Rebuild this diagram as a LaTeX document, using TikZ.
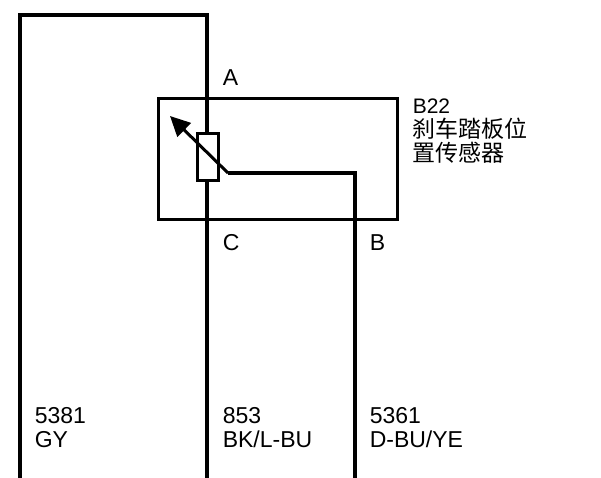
\documentclass[tikz,border=0pt]{standalone}
\usepackage{fontspec}
\setmainfont{Liberation Sans}
\newfontfamily\cjk{Noto Sans CJK SC}
\usetikzlibrary{arrows.meta}

\begin{document}
\begin{tikzpicture}[x=1pt,y=-1pt,line width=3.5pt,
                    pin label/.style={font=\fontsize{23}{23}\selectfont,anchor=base west,inner sep=0pt},
                    wire label/.style={font=\fontsize{23}{24}\selectfont,align=left,anchor=south west,inner sep=0pt}]
    \useasboundingbox (0,0) rectangle (601,478);

    % Points
    \coordinate (gtop) at (20,15);
    \coordinate (gbot) at (20,478);
    \coordinate (atop) at (207,15);
    \coordinate (abot) at (207,478);
    \coordinate (wiper) at (228,173);
    \coordinate (bcorner) at (355,173);
    \coordinate (bbot) at (355,478);
    \coordinate (tip) at (170,116);

    % Sensor box
    \draw[line width=3pt] (158,99) rectangle (397,219);
    \node[anchor=north west,inner sep=0pt,align=left,font=\fontsize{21}{24}\selectfont] (name) at (411,97)
      {B22\\{\cjk\fontsize{23}{25}\selectfont 刹车踏板位}\\{\cjk\fontsize{23}{25}\selectfont 置传感器}};

    % Wires
    \draw (gbot) -- (gtop) -- (atop) -- (abot);
    \draw (wiper) -- (bcorner) -- (bbot);
    \draw[fill=white,line width=3pt] (197,134) rectangle (218,181);
    \draw[-{Triangle[length=20pt,width=19pt]},line width=3pt] (wiper) -- (tip);

    % Pin labels
    \node[pin label] (pa) at (221,86) {A};
    \node[pin label] (pc) at (221,250) {C};
    \node[pin label] (pb) at (368,250) {B};

    % Wire labels
    \node[wire label] (ga) at (33,449) {5381\\GY};
    \node[wire label] (gb) at (221,449) {853\\BK/L-BU};
    \node[wire label] (gc) at (368,449) {5361\\D-BU/YE};
\end{tikzpicture}
\end{document}
